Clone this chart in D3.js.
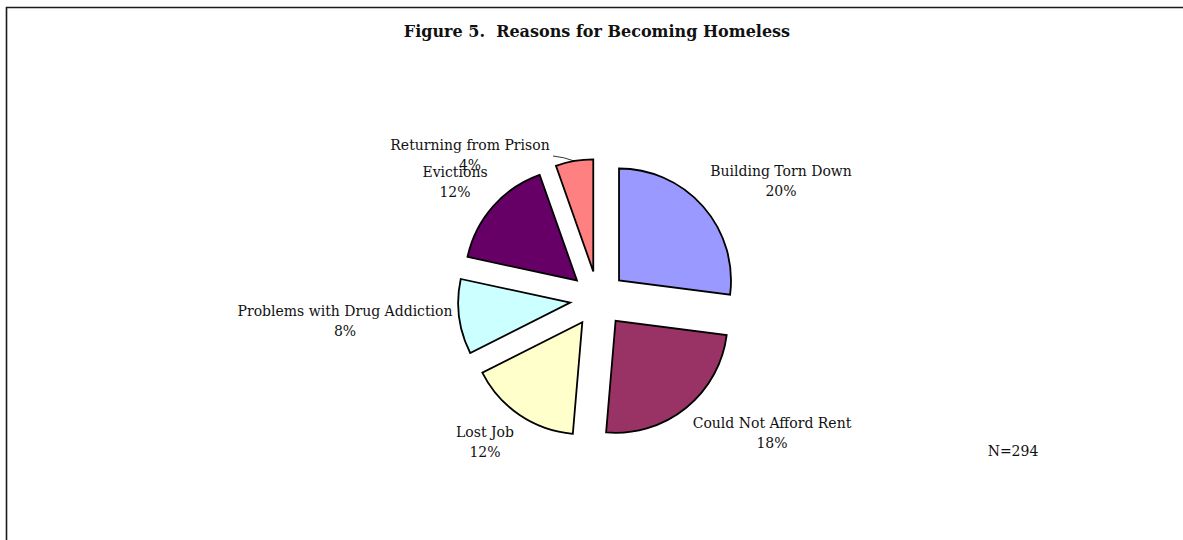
<!DOCTYPE html>
<html><head><meta charset="utf-8">
<script src="https://cdn.jsdelivr.net/npm/d3@7"></script>
<style>
body{margin:0;background:#fff}
text{font-family:"DejaVu Serif",Georgia,serif;fill:#111}
</style>
</head><body>
<svg id="chart" width="1183" height="540"></svg>
<script>
// Reasons reported for becoming homeless (share of respondents, %)
const reasons = ["Building Torn Down", "Could Not Afford Rent", "Lost Job",
                 "Problems with Drug Addiction", "Evictions", "Returning from Prison"];
const percents = [20, 18, 12, 8, 12, 4];
const sliceColors = ["#9999FF", "#993366", "#FFFFCC", "#CCFFFF", "#660066", "#FF8080"];
const titleText = "Figure 5.  Reasons for Becoming Homeless";
const sampleNote = "N=294";

// Layout
const W = 1183, H = 540;
const cx = 598, cy = 299;      // pie centre
const radius = 112;            // slice radius
const explode = 28;            // distance each slice is pulled out
const lineGap = 20;            // between label name and value
// label block position (first line, centred) relative to the pie centre
const labelOffsets = [[183, -123], [174, 129], [-113, 138], [-253, 17], [-143, -122], [-128, -149]];

const svg = d3.select("#chart");

// frame
svg.append("path")
  .attr("d", `M6.5,${H + 5} V7.5 H${W + 5}`)
  .attr("fill", "none").attr("stroke", "#1a1a1a").attr("stroke-width", 1.6);

svg.append("text")
  .attr("x", 597).attr("y", 37)
  .attr("text-anchor", "middle")
  .attr("xml:space", "preserve")
  .style("font-size", "16px").style("font-weight", "bold")
  .text(titleText);

const data = reasons.map((name, i) => ({ name, value: percents[i], color: sliceColors[i] }));
const pie = d3.pie().value(d => d.value).sort(null).startAngle(0).endAngle(2 * Math.PI);
const arcs = pie(data);
const arc = d3.arc().innerRadius(0).outerRadius(radius);

const g = svg.append("g").attr("transform", `translate(${cx},${cy})`);

function shift(a) {
  const m = (a.startAngle + a.endAngle) / 2;
  return [explode * Math.sin(m), -explode * Math.cos(m)];
}

g.selectAll("path.slice").data(arcs).enter().append("path")
  .attr("class", "slice")
  .attr("d", arc)
  .attr("transform", d => `translate(${shift(d)})`)
  .attr("fill", d => d.data.color)
  .attr("stroke", "#000").attr("stroke-width", 1.8)
  .attr("stroke-linejoin", "miter");

// leader line for the small slice
const small = arcs[5];
{
  const m = (small.startAngle + small.endAngle) / 2;
  const [sx, sy] = shift(small);
  const px = sx + radius * Math.sin(m), py = sy - radius * Math.cos(m);
  const lx = -45, ly = -143;
  g.append("path")
    .attr("d", `M${lx},${ly} Q${(lx + px) / 2},${ly + 1} ${px},${py}`)
    .attr("fill", "none").attr("stroke", "#000").attr("stroke-width", 0.8);
}

const labels = g.selectAll("g.label").data(arcs).enter().append("g")
  .attr("class", "label")
  .attr("transform", (d, i) => `translate(${labelOffsets[i]})`);
labels.append("text").attr("text-anchor", "middle").style("font-size", "14px")
  .text(d => d.data.name);
labels.append("text").attr("text-anchor", "middle").attr("y", lineGap).style("font-size", "14px")
  .text(d => d.data.value + "%");

svg.append("text")
  .attr("x", 1013).attr("y", 456)
  .attr("text-anchor", "middle")
  .style("font-size", "14px")
  .text(sampleNote);
</script>
</body></html>
